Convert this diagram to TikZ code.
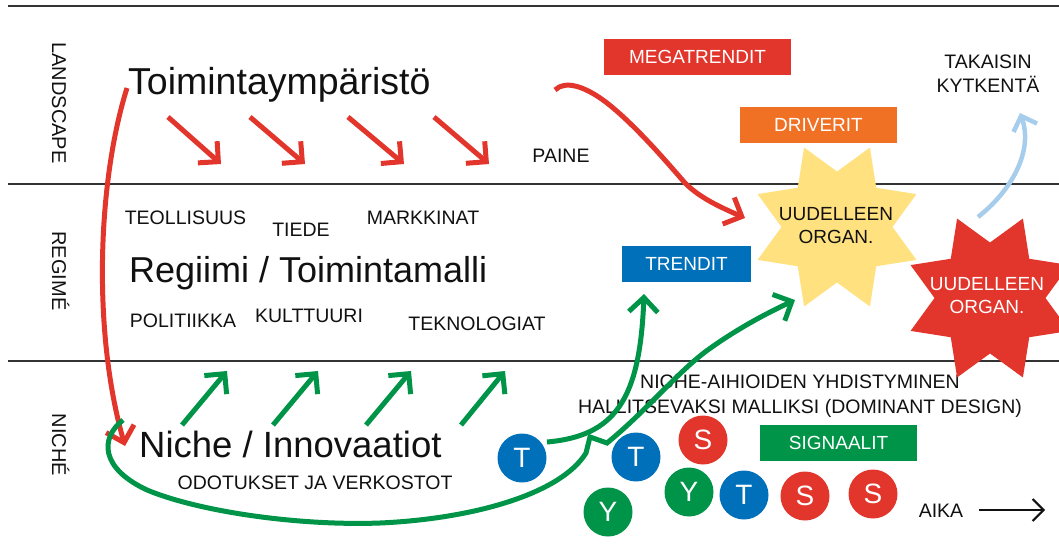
\documentclass[tikz,border=0pt]{standalone}
\usepackage{fontspec}
\setmainfont{Liberation Sans}
\usetikzlibrary{arrows.meta,shapes.geometric}

\definecolor{cRed}{HTML}{E2352B}
\definecolor{cOrange}{HTML}{F07124}
\definecolor{cYellow}{HTML}{FFE17F}
\definecolor{cBlue}{HTML}{0070BB}
\definecolor{cGreen}{HTML}{009448}
\definecolor{cSky}{HTML}{A6CDEC}
\definecolor{cInk}{HTML}{111111}
\definecolor{cRule}{HTML}{333333}

\begin{document}
\begin{tikzpicture}[x=1pt,y=-1pt,
  rule/.style={cRule, line width=1.4pt},
  lane/.style={rotate=-90, anchor=base, inner sep=0, text=cInk,
    font=\fontsize{20}{20}\selectfont},
  big/.style={anchor=base west, inner sep=0, text=cInk,
    font=\fontsize{36.5}{40}\selectfont},
  word/.style={anchor=base, inner sep=0, text=cInk,
    font=\fontsize{19.5}{24}\selectfont},
  tag/.style={inner sep=0, minimum height=36pt, text=white,
    font=\fontsize{19}{24}\selectfont},
  token/.style={circle, minimum size=49pt, inner sep=0, text=white,
    font=\fontsize{28}{28}\selectfont},
  burst/.style={star, star points=8, star point ratio=1.55,
    minimum size=172pt, inner sep=0, shape border rotate=22.5, draw=none},
  burstlabel/.style={anchor=north, align=center, inner sep=0,
    font=\fontsize{19}{23}\selectfont},
  flow/.style={line width=5pt, -{Straight Barb[length=14.5pt,width=29pt,sharp]}},
]
\useasboundingbox (0,0) rectangle (1059,548);

% layer rules
\draw[rule] (8,6) -- (1059,6);
\draw[rule] (8,184) -- (1059,184);
\draw[rule] (8,361) -- (1059,361);

% layer names
\node[lane] (laneLand) at (52,103) {LANDSCAPE};
\node[lane] (laneReg) at (52,271) {REGIMÉ};
\node[lane] (laneNiche) at (52,445) {NICHÉ};

% headings
\node[big, font=\fontsize{37.5}{40}\selectfont] (env) at (128,95) {Toimintaympäristö};
\node[big, font=\fontsize{36}{40}\selectfont] (reg) at (129,282) {Regiimi / Toimintamalli};
\node[big] (niche) at (139,457) {Niche / Innovaatiot};

% small labels
\node[word] (ind) at (185.5,224) {TEOLLISUUS};
\node[word] (sci) at (301,236) {TIEDE};
\node[word] (mkt) at (423,224) {MARKKINAT};
\node[word] (pol) at (183,327) {POLITIIKKA};
\node[word] (cul) at (309,322) {KULTTUURI};
\node[word] (tech) at (477,330) {TEKNOLOGIAT};
\node[word] (exp) at (315,489) {ODOTUKSET JA VERKOSTOT};
\node[word] (press) at (561,163) {PAINE};
\node[word] (time) at (941,517) {AIKA};
\node[word, anchor=north, align=center, font=\fontsize{19.5}{24}\selectfont]
  (back) at (988,55) {TAKAISIN\\KYTKENTÄ};
\node[word, anchor=north, align=center, font=\fontsize{19.5}{24.5}\selectfont]
  (merge) at (800,375) {NICHE-AIHIOIDEN YHDISTYMINEN\\HALLITSEVAKSI MALLIKSI (DOMINANT DESIGN)};

% coloured tags
\node[tag, fill=cRed, minimum width=187pt] (mega) at (697.5,57) {MEGATRENDIT};
\node[tag, fill=cOrange, minimum width=157pt] (drv) at (818.5,125) {DRIVERIT};
\node[tag, fill=cBlue, minimum width=129pt] (trend) at (686.5,264) {TRENDIT};
\node[tag, fill=cGreen, minimum width=157pt] (sig) at (838.5,443) {SIGNAALIT};

% reorganisation bursts
\node[burst, fill=cYellow] (orgA) at (837,227) {};
\node[burstlabel, text=cInk] (orgAtext) at (836,207) {UUDELLEEN\\ORGAN.};
\node[burst, fill=cRed] (orgB) at (990,298) {};
\node[burstlabel, text=white] (orgBtext) at (987,277) {UUDELLEEN\\ORGAN.};

% pressure from the landscape
\foreach \i/\a/\b in {1/168/221, 2/250/305, 3/348/404, 4/434/489} {
  \coordinate (pIn\i) at (\a,117);
  \coordinate (pOut\i) at (\b,164);
  \draw[flow, cRed] (pIn\i) -- (pOut\i);
}

% niches pushing upwards
\foreach \i/\a/\b in {1/182/227, 2/273/318, 3/366/411, 4/461/505} {
  \coordinate (uIn\i) at (\a,425);
  \coordinate (uOut\i) at (\b,371);
  \draw[flow, cGreen] (uIn\i) -- (uOut\i);
}

% landscape down to niches
\coordinate (envFoot) at (127,88);
\coordinate (nicheHead) at (125,446);
\draw[flow, cRed] (envFoot) .. controls (98,180) and (92,330) .. (nicheHead);

% landscape to the yellow burst
\coordinate (envTail) at (555,90);
\coordinate (orgAin) at (745,218);
\draw[flow, cRed] (envTail) .. controls (565,80) and (585,86) .. (607,103)
  .. controls (635,125) and (665,160) .. (685,183)
  .. controls (700,198) and (720,207) .. (orgAin);

% niche loop feeding the yellow burst
\coordinate (loopStart) at (123,420);
\coordinate (loopKnee) at (590,437);
\coordinate (loopBend) at (607,443);
\coordinate (orgAfoot) at (795,300);
\draw[flow, cGreen] (loopStart) .. controls (100,438) and (100,468) .. (147,490)
  .. controls (200,512) and (300,526) .. (380,523)
  .. controls (470,519) and (560,495) .. (586,453)
  -- (loopKnee) -- (loopBend)
  .. controls (645,412) and (675,375) .. (705,352)
  .. controls (735,330) and (765,314) .. (orgAfoot);

% T token up to the trends
\coordinate (t1out) at (547,442);
\coordinate (trendFoot) at (644,294);

% feedback from the red burst
\coordinate (orgBtop) at (978,217);
\coordinate (backFoot) at (1020,113);
\draw[line width=4.5pt, cSky, -{Straight Barb[length=12.5pt,width=25pt,sharp]}]
  (orgBtop) .. controls (1010,192) and (1034,152) .. (backFoot);

% time axis
\coordinate (timeA) at (979,510);
\coordinate (timeB) at (1045,510);
\draw[line width=2pt, cInk, -{Straight Barb[length=11pt,width=22pt,sharp]}] (timeA) -- (timeB);

% tokens
\node[token, fill=cBlue] (t1) at (522,458) {T};
\node[token, fill=cBlue] (t2) at (636,457) {T};
\node[token, fill=cRed] (s1) at (703,440) {S};
\node[token, fill=cGreen] (y1) at (608,512) {Y};
\node[token, fill=cGreen] (y2) at (689,492) {Y};
\node[token, fill=cBlue] (t3) at (744,495) {T};
\node[token, fill=cRed] (s2) at (805,496) {S};
\node[token, fill=cRed] (s3) at (873,494) {S};

\draw[flow, cGreen] (t1out) .. controls (615,436) and (640,400) .. (trendFoot);
\end{tikzpicture}
\end{document}
